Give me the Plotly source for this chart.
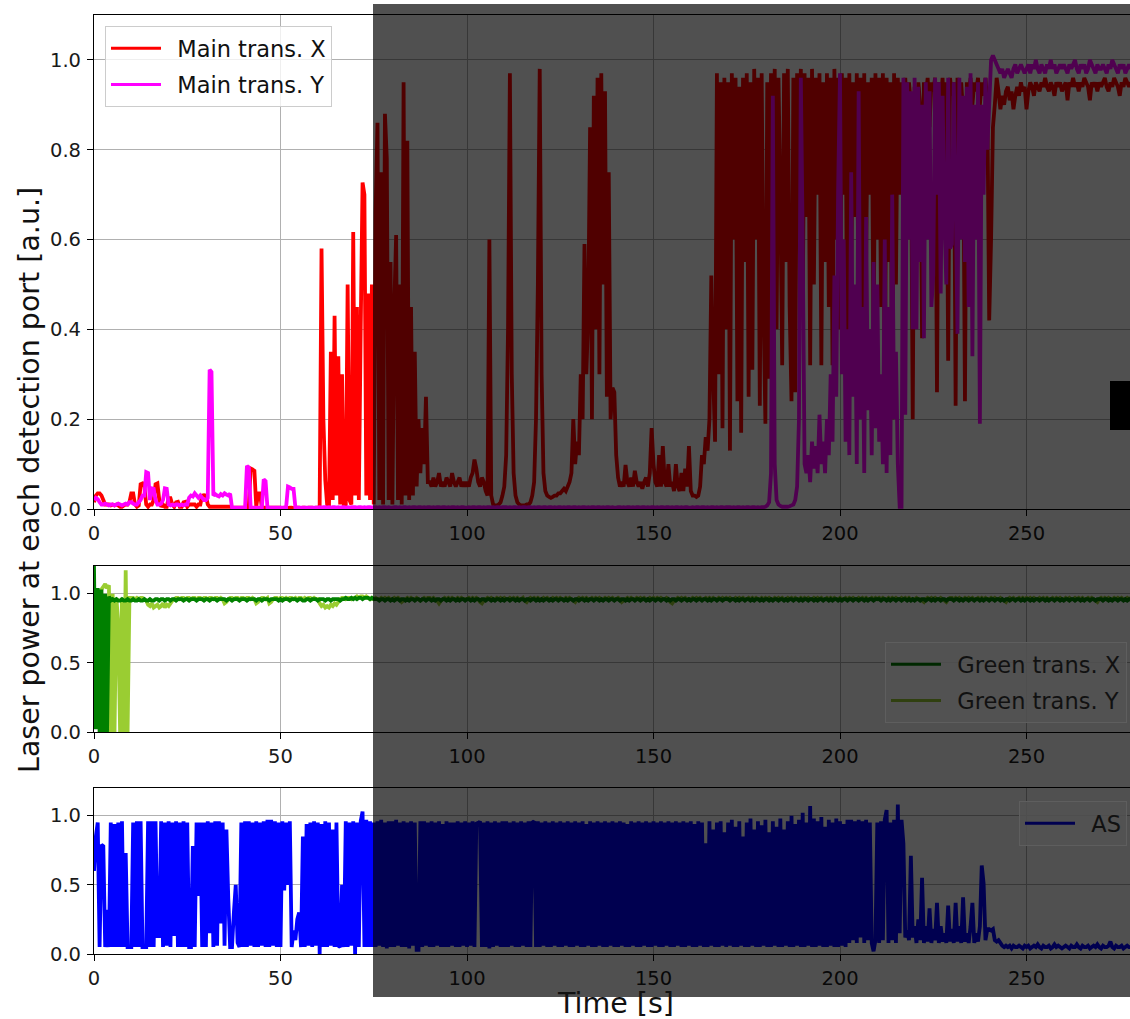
import plotly.graph_objects as go

# ---------------- data ----------------
# all series sampled every TIME_STEP_S seconds, values in percent of full scale
TIME_STEP_S = 0.5

main_x_pct = [
    1.5,3,3.5,3.5,3,2,1,1,1,0.8,1,0.8,1,0.8,0.5,0.5,0.8,1,1,1.5,
    3.5,3.5,1,0.5,0.8,5.5,5.7,5,1,0.5,1,1,2,5.5,5.7,2,0.5,1,0.5,0.5,
    2.4,2.4,1,0.5,1.5,1.6,0.5,0.5,1.5,1.6,0.5,1,1,1,1,0.5,1,1,3,3.1,
    3,1,0.5,0.5,0.5,0.5,0.5,0.5,0.5,0.5,0.5,0.5,0.5,0.5,0.3,0.3,0.3,0.3,0.3,0.3,
    0.3,0.3,0.3,0.5,9,8.8,8.5,0.5,3.5,3.5,0.3,0.3,0.3,0.3,0.3,0.3,0.3,0.3,0.3,0.3,
    0.3,0.2,0.3,0.3,0.2,0.3,0.3,0.2,0.3,0.3,0.3,0.2,0.3,0.3,0.2,0.3,0.3,0.3,0.2,0.3,
    0.3,0.5,58,20,6.5,1,0.5,35,2,43,3,34,1,30,0.5,1,50,2,1,61.7,
    3,45,2,40,72.7,70,3,48,2,50,1,66,86,2,75,1,88,78,2,55,
    1,45,61,2,50,1,95,3,82,2,45,3,35,5,20,8,18,10,25,6,
    6,5,7,5,6,8,5,6,5,7,6,5,8,6,5,6,7,5,6,5,
    6,5,7,8,11,9,6,5,7,6,4,3,60,3,1,0.8,0.8,1,1.5,3,
    5,12,40,97,30,8,3,1.5,1,0.8,0.8,0.8,1,1,1.5,3,6,20,50,98,
    30,8,4,3,2.7,2.5,2.7,3,3,3.5,3.5,4,4.5,4,5,6,8,20,10,15,
    12,30,20,59,30,44,85,20,92,40,96,30,97,50,93,25,75,20,27,26,
    12,7,5,6,5,9.8,6,5,7,5,8.5,6,5,6,4.5,6,7,5,8,18,
    10,6,5,12,5,14,6,5,10,5,6,4,10,5,4,8,4,9,5,14,
    4,3,3,2.7,3,5,12,10,16,13,20,52,30,15,97,30,95,18,96,40,
    95,13,97,60,96,24,94,17,96,55,97,25,95,31,98,60,96,23,97,45,
    19,95,29,97,50,98,40,96,70,32,97,55,98,45,24,96,26,97,60,98,
    45,97,65,96,32,98,50,96,70,97,32,95,55,97,45,96,32,98,60,96,
    40,97,70,96,20,97,50,95,65,97,40,96,27,97,55,95,70,96,35,97,
    60,96,45,97,20,96,55,95,20,97,50,96,70,95,60,96,85,95,90,20,
    94,80,95,90,38,95,92,96,85,95,93,96,26,95,90,96,85,95,33,96,
    92,95,23,96,90,95,88,24,95,92,96,90,95,93,96,90,95,92,96,90,
    42,60,85,90,96,93,89,92,90,93,94,91,93,89,92,94,92,95,93,94,
    89,93,95,94,92,95,94,93,95,94,96,94,93,95,94,92,95,94,95,93,
    94,95,91,95,94,96,94,95,93,95,94,96,95,94,91,95,94,95,93,95,
    94,95,96,94,93,95,94,96,95,94,92,95,94,96,95,94,95,93,95,94,
]

main_y_pct = [
    2,2.5,2.2,1.5,1,1,1.2,1,0.8,1,1,0.8,1,1.2,1,0.8,1,1.2,1,1.5,
    1.5,1.2,1,1,1.5,2,3,3,8.2,8,2,4.6,4.5,2,1,1,1.2,2,4.6,4.5,
    1,0.8,1,0.8,1,1,0.8,1,0.8,1,1,2.5,3,2.8,3.5,3,2.5,3,2.5,2,
    2,2.5,31,30.5,3,3.3,3,2.8,3.3,3,3.5,3.2,3,3.4,0.3,0.3,0.3,0.3,0.3,0.3,
    0.3,0.3,9.6,9.2,0.3,0.3,0.3,0.3,0.3,0.3,0.3,6.6,6.2,0.3,0.3,0.3,0.3,0.3,0.3,0.3,
    0.3,0.3,0.3,0.3,5,4.8,4.5,4.5,0.3,0.3,0.3,0.3,0.3,0.3,0.3,0.3,0.3,0.3,0.3,0.3,
    0.3,0.4,0.3,0.4,0.4,0.3,0.4,0.3,0.4,0.4,0.3,0.4,0.3,0.4,0.4,0.3,0.4,0.3,0.4,0.4,
    0.4,0.3,0.4,0.4,0.3,0.4,0.3,0.4,0.4,0.3,0.4,0.4,0.3,0.4,0.3,0.4,0.4,0.3,0.4,0.3,
    0.3,0.4,0.4,0.3,0.4,0.3,0.4,0.4,0.3,0.4,0.3,0.4,0.4,0.3,0.4,0.4,0.3,0.4,0.3,0.4,
    0.4,0.3,0.4,0.3,0.4,0.4,0.3,0.4,0.4,0.3,0.4,0.3,0.4,0.4,0.3,0.4,0.3,0.4,0.4,0.3,
    0.3,0.4,0.3,0.4,0.4,0.3,0.4,0.4,0.3,0.4,0.3,0.4,0.4,0.3,0.4,0.3,0.4,0.4,0.3,0.4,
    0.4,0.4,0.3,0.4,0.3,0.4,0.4,0.3,0.4,0.3,0.4,0.4,0.3,0.4,0.4,0.3,0.4,0.3,0.4,0.4,
    0.3,0.4,0.4,0.3,0.4,0.4,0.3,0.4,0.3,0.4,0.4,0.3,0.4,0.3,0.4,0.4,0.3,0.4,0.4,0.3,
    0.4,0.3,0.4,0.4,0.3,0.4,0.3,0.4,0.4,0.3,0.4,0.4,0.3,0.4,0.3,0.4,0.4,0.3,0.4,0.3,
    0.3,0.4,0.4,0.3,0.4,0.3,0.4,0.4,0.3,0.4,0.3,0.4,0.4,0.3,0.4,0.4,0.3,0.4,0.3,0.4,
    0.4,0.3,0.4,0.3,0.4,0.4,0.3,0.4,0.4,0.3,0.4,0.3,0.4,0.4,0.3,0.4,0.3,0.4,0.4,0.3,
    0.3,0.4,0.3,0.4,0.4,0.3,0.4,0.4,0.3,0.4,0.3,0.4,0.4,0.3,0.4,0.3,0.4,0.4,0.3,0.4,
    0.4,0.4,0.3,0.4,0.3,0.4,0.4,0.3,0.4,0.3,0.4,0.4,0.3,0.4,0.4,0.3,0.4,0.3,0.4,0.4,
    0.5,0.8,1.5,8,92,10,2,1,0.7,0.5,0.5,0.5,0.5,0.6,0.8,1,2,5,20,96,
    60,10,8,12,6,15,9,14,8,21,10,15,8,20,12,30,15,52,25,71,
    97,30,60,15,40,12,75,25,50,10,93,20,45,8,65,22,40,12,55,18,
    50,15,30,10,60,8,45,12,70,20,35,10,0.5,0.5,96,21,95,60,93,40,
    96,40,94,55,90,38,95,60,93,45,52,96,70,95,48,92,65,50,96,58,
    59,95,70,39,96,60,92,55,94,45,97,34,90,60,95,19,90,70,96,80,
    90,100,101,100,99,98,97,98,96,97,98,97,96,98,99,97,98,99,98,97,
    98,99,97,99,98,100,98,97,99,98,97,99,98,100,98,99,97,98,99,98,
    99,98,97,99,98,99,100,98,97,99,98,99,97,98,100,99,98,97,99,98,
    98,99,98,97,99,98,100,99,98,97,99,98,99,97,98,99,98,100,98,99,
]

green_x_pct = [
    120,2,104,0,103,0,100,0,98,95,96,95,96,95,95,96,95,95,96,95,
    95,96,95,95,96,95,95,96,95,95,96,95,95,96,96,95,96,96,95,96,
    96,95,96,96,95,96,96,96,95,96,96,95,96,96,96,95,96,96,96,95,
    96,96,95,96,96,96,95,96,96,96,96,95,96,96,95,96,96,96,95,96,
    96,96,95,96,96,96,96,95,96,96,95,96,96,96,95,96,96,96,96,95,
    96,95,96,96,96,95,96,96,96,95,96,96,95,95,96,96,95,96,96,96,
    95,96,96,96,95,96,96,95,96,96,96,96,95,96,96,97,96,96,97,96,
    97,96,97,97,96,97,97,97,96,97,96,96,96,95,96,96,95,96,96,95,
    96,95,96,96,95,96,96,95,96,95,96,96,95,96,96,95,96,96,95,96,
    96,95,96,95,96,96,95,96,96,95,96,95,96,96,95,96,95,96,96,95,
    96,96,95,96,95,96,96,95,96,96,95,96,96,95,96,95,96,96,95,96,
    95,96,96,95,96,96,95,96,95,96,96,95,96,96,95,96,96,95,96,95,
    96,95,96,96,95,96,95,96,96,95,96,96,95,96,95,96,96,95,96,96,
    95,96,96,95,96,95,96,96,95,96,96,95,96,95,96,96,95,96,96,95,
    96,96,95,96,96,95,96,95,96,96,95,96,96,95,96,96,95,96,95,96,
    96,95,96,96,95,96,96,95,96,95,96,96,95,96,96,95,96,96,95,96,
    95,96,96,95,96,96,95,96,96,95,96,95,96,96,95,96,96,95,96,96,
    96,95,96,96,95,96,95,96,96,95,96,96,95,96,95,96,96,95,96,95,
    96,96,95,96,95,96,96,95,96,96,95,96,95,96,96,95,96,96,95,96,
    95,96,96,95,96,96,95,96,95,96,96,95,96,96,95,96,95,96,96,95,
    96,95,96,96,95,96,96,95,96,96,95,96,96,95,96,95,96,96,95,96,
    96,96,95,96,96,95,96,95,96,96,95,96,96,95,96,96,95,96,95,96,
    95,96,96,95,96,96,95,96,96,95,96,95,96,96,95,96,96,95,96,96,
    96,95,96,96,95,96,95,96,96,95,96,96,95,96,96,95,96,95,96,96,
    95,96,96,95,96,96,95,96,95,96,96,95,96,96,95,96,96,95,96,95,
    96,96,95,96,95,96,96,95,96,96,95,96,95,96,96,95,96,96,95,96,
    95,96,96,95,96,96,95,96,96,95,96,95,96,96,95,96,96,95,96,96,
    96,95,96,96,95,96,95,96,96,95,96,96,95,96,95,96,96,95,96,95,
]

green_y_pct = [
    100,102,101,100,103,105,107,104,106,0,100,0,97,78,0,97,0,117,0,97,
    97,97,96,97,96,97,97,96,95,92,91,93,90,91,92,90,91,93,90,92,
    91,93,95,96,97,97,96,97,97,96,97,97,96,97,97,96,97,97,96,97,
    97,96,97,97,96,97,97,96,97,96,93,94,96,97,97,96,97,97,96,97,
    97,96,97,97,96,97,96,93,94,96,97,97,96,97,93,94,96,97,97,96,
    97,97,96,97,96,97,97,96,97,96,97,97,96,97,96,97,97,96,97,96,
    96,93,91,92,90,91,90,92,91,93,92,94,96,97,97,96,97,97,96,97,
    97,98,97,98,98,97,98,97,96,97,96,97,96,96,97,96,97,96,97,96,
    96,97,96,97,96,94,95,96,97,96,97,96,96,97,96,95,96,97,96,97,
    97,96,97,96,95,93,95,96,97,96,97,96,97,96,96,97,96,97,96,96,
    96,97,96,97,96,97,96,94,93,95,96,97,96,97,96,96,97,96,97,96,
    97,96,96,97,96,97,96,97,96,96,97,95,94,96,97,96,97,96,97,96,
    96,97,96,97,96,96,97,96,97,96,97,96,96,97,96,97,96,95,94,96,
    97,96,97,96,97,96,96,97,96,97,96,97,96,96,97,96,97,96,97,96,
    96,97,96,94,95,96,97,96,97,96,96,97,96,97,96,97,96,96,97,96,
    97,96,97,96,97,96,96,97,96,94,93,95,96,97,96,97,96,97,96,96,
    96,97,96,97,96,97,96,96,97,96,97,96,97,96,96,97,96,97,96,97,
    96,97,96,96,97,96,97,96,97,96,96,97,96,97,96,97,96,96,97,96,
    97,96,97,96,96,97,96,97,96,97,96,96,97,96,97,96,97,96,96,97,
    96,97,96,97,96,96,97,96,97,96,97,96,96,97,96,97,96,97,96,96,
    97,96,96,97,96,97,96,97,96,96,97,96,97,96,97,96,96,97,96,97,
    96,97,96,97,96,96,97,96,97,96,97,96,96,97,96,97,96,97,96,96,
    96,97,96,96,95,94,96,97,96,97,96,97,96,96,97,96,95,94,96,97,
    97,96,97,96,97,96,96,97,96,97,96,97,96,96,97,96,97,96,97,96,
    96,97,96,97,96,96,97,96,95,94,96,97,96,97,96,96,97,96,97,96,
    97,96,97,96,97,96,96,97,96,97,96,97,96,96,97,96,97,96,97,96,
    96,97,96,97,96,96,97,96,97,96,97,96,96,97,96,97,96,95,94,96,
    97,96,97,96,97,96,96,97,96,97,96,97,96,96,97,96,97,96,97,96,
]

as_pct = [
    60,85,95,5,79,78,5,32,5,95,5,94,5,95,5,96,5,73,5,5,
    5,95,5,96,5,96,5,5,5,96,5,96,5,96,13,13,96,5,95,6,
    96,5,95,13,96,5,95,5,96,5,95,5,5,78,5,95,42,95,5,95,
    5,96,15,95,5,96,6,96,22,95,6,90,40,5,5,30,50,8,5,95,
    5,96,5,96,6,95,5,96,5,95,6,96,5,97,5,97,6,96,5,95,
    5,96,46,95,50,96,5,17,10,25,30,5,85,5,94,6,95,5,96,6,
    95,0,94,5,96,5,95,6,90,5,95,6,5,50,5,96,5,95,6,96,
    0,95,5,96,103,5,97,5,96,5,95,5,96,6,97,5,95,4,96,5,
    96,5,97,6,95,5,96,5,95,4,96,6,95,3,3,96,5,96,6,95,
    5,96,5,95,6,96,5,94,5,96,5,95,6,95,5,96,5,95,6,96,
    5,95,6,96,5,95,94,96,5,95,5,96,4,95,5,96,6,95,5,96,
    5,96,5,95,6,96,5,95,5,96,6,95,5,96,5,95,96,5,96,5,
    95,6,96,5,95,5,96,6,95,5,96,5,95,6,96,5,95,5,96,6,
    95,5,96,5,94,6,96,5,95,5,96,6,95,5,96,5,95,6,96,5,
    95,5,96,6,95,5,94,5,96,6,95,5,96,5,95,6,96,5,95,5,
    96,6,95,5,96,5,95,6,96,5,95,5,96,6,95,5,96,5,95,6,
    96,5,94,5,96,6,95,5,80,5,96,6,90,5,95,5,96,6,88,5,
    95,6,97,5,92,5,96,6,85,5,95,5,98,6,90,5,96,5,93,6,
    97,5,88,5,96,6,92,5,98,5,90,6,96,5,100,5,94,6,97,5,
    102,5,95,6,107,5,98,5,96,6,99,5,92,5,97,6,95,5,98,5,
    96,6,94,5,97,8,97,10,96,8,97,12,96,8,97,10,95,8,2,10,
    95,8,96,10,97,104,8,95,10,97,8,108,15,97,80,12,17,10,71,12,
    20,8,25,10,55,8,20,9,33,8,18,10,37,8,20,9,15,8,35,9,
    18,8,37,9,20,8,41,9,15,8,20,37,8,15,9,20,64,51,10,18,
    18,17,18,10,9,10,8,6,5,6,5,6,4,6,5,5,6,5,4,6,
    5,6,4,5,6,5,7,5,4,6,5,5,6,4,5,7,5,6,5,4,
    5,6,5,4,6,5,5,7,5,4,6,5,5,6,4,5,6,5,7,5,
    4,6,5,5,6,9,5,4,6,5,5,6,4,5,6,5,5,4,6,5,
]

x_tick_vals = [0, 50, 100, 150, 200, 250]
top_y_ticks = [0.0, 0.2, 0.4, 0.6, 0.8, 1.0]
low_y_ticks = [0.0, 0.5, 1.0]

names_top = ["Main trans. X", "Main trans. Y"]
names_mid = ["Green trans. X", "Green trans. Y"]
names_bot = ["AS"]

# ---------------- helpers ----------------
W, H = 1130, 1019
LEFT = 94
FONT = "DejaVu Sans"
GAP = "\u2002"  # spacing between legend line sample and label


def px_x(px):
    return (px - LEFT) / (W - LEFT)


def px_y(py):
    return (H - py) / H


def series(pct):
    return [i * TIME_STEP_S for i in range(len(pct))], [v / 100.0 for v in pct]


LW = 3.8
fig = go.Figure()


def add_line(pct, color, xa, ya):
    t, v = series(pct)
    fig.add_trace(go.Scatter(x=t, y=v, mode="lines", xaxis=xa, yaxis=ya,
                             line=dict(color=color, width=LW, simplify=False),
                             showlegend=False, hoverinfo="skip"))


add_line(main_x_pct, "#ff0000", "x", "y")
add_line(main_y_pct, "#ff00ff", "x", "y")
add_line(green_y_pct, "#9acd32", "x2", "y2")
add_line(green_x_pct, "#008000", "x2", "y2")
add_line(as_pct, "#0000ff", "x3", "y3")


def add_legend_entry(name, color, xa, ya, legend, group):
    fig.add_trace(go.Scatter(x=[None], y=[None], mode="lines", xaxis=xa, yaxis=ya,
                             name=GAP + name, legend=legend, legendgroup=group,
                             line=dict(color=color, width=3)))


# top legend is outside the dimmed area: normal colours
add_legend_entry(names_top[0], "#ff0000", "x", "y", "legend", "a")
add_legend_entry(names_top[1], "#ff00ff", "x", "y", "legend", "b")
# these legends sit under the dark overlay: colours as seen
add_legend_entry(names_mid[0], "#002800", "x2", "y2", "legend2", "c")
add_legend_entry(names_mid[1], "#304010", "x2", "y2", "legend2", "d")
add_legend_entry(names_bot[0], "#000050", "x3", "y3", "legend3", "e")

xaxis_style = dict(range=[0, (W - LEFT) / 3.73], tickvals=x_tick_vals,
                   showgrid=True, gridcolor="#b0b0b0", gridwidth=1,
                   showline=True, linecolor="black", linewidth=1.2, mirror=True,
                   ticks="outside", ticklen=6, tickwidth=1.1, tickcolor="black",
                   ticklabelstandoff=0,
                   tickfont=dict(family=FONT, size=19.5, color="#1a1a1a"),
                   zeroline=False, domain=[0, 1], automargin=False)
yaxis_style = dict(showgrid=True, gridcolor="#b0b0b0", gridwidth=1,
                   showline=True, linecolor="black", linewidth=1.2, mirror=False,
                   ticks="outside", ticklen=6, tickwidth=1.1, tickcolor="black",
                   ticklabelstandoff=2,
                   tickfont=dict(family=FONT, size=19.5, color="#1a1a1a"),
                   tickformat=".1f", zeroline=False, automargin=False)

legend_common = dict(borderwidth=1, tracegroupgap=4, itemwidth=50,
                     font=dict(family=FONT, size=22.5, color="#111111"))

fig.update_layout(
    width=W, height=H,
    margin=dict(l=LEFT, r=0, t=0, b=0, pad=0, autoexpand=False),
    paper_bgcolor="white", plot_bgcolor="white",
    xaxis=dict(anchor="y", **xaxis_style),
    yaxis=dict(anchor="x", domain=[px_y(509), px_y(15)], range=[0, 1.1],
               tickvals=top_y_ticks, **yaxis_style),
    xaxis2=dict(anchor="y2", **xaxis_style),
    yaxis2=dict(anchor="x2", domain=[px_y(732), px_y(566)], range=[0, 1.2],
                tickvals=low_y_ticks, **yaxis_style),
    xaxis3=dict(anchor="y3", **xaxis_style),
    yaxis3=dict(anchor="x3", domain=[px_y(954), px_y(788)], range=[0, 1.2],
                tickvals=low_y_ticks, **yaxis_style),
    legend=dict(x=px_x(105), y=px_y(26), xanchor="left", yanchor="top",
                bgcolor="rgba(255,255,255,0.8)", bordercolor="#cccccc", **legend_common),
    legend2=dict(x=px_x(1127), y=px_y(642), xanchor="right", yanchor="top",
                 bgcolor="rgba(82,82,82,0.85)", bordercolor="#5e5e5e", **legend_common),
    legend3=dict(x=px_x(1127), y=px_y(801), xanchor="right", yanchor="top",
                 bgcolor="rgba(82,82,82,0.85)", bordercolor="#5e5e5e", **legend_common),
    annotations=[
        dict(text="Laser power at each detection port [a.u.]", xref="paper", yref="paper",
             x=px_x(29), y=px_y(480), textangle=-90, showarrow=False,
             xanchor="center", yanchor="middle",
             font=dict(family=FONT, size=28.5, color="#111111")),
        dict(text="Time [s]", xref="paper", yref="paper",
             x=px_x(615), y=0.0, showarrow=False,
             xanchor="center", yanchor="bottom", borderpad=0,
             height=30, valign="middle",
             font=dict(family=FONT, size=28.5, color="#111111")),
    ],
    shapes=[
        # dimming overlay over the right part of the picture
        dict(type="rect", xref="paper", yref="paper", layer="above",
             x0=px_x(373), x1=1.0, y0=px_y(997), y1=px_y(4),
             fillcolor="rgba(0,0,0,0.686)", line=dict(width=0)),
        # small black block at the right edge
        dict(type="rect", xref="paper", yref="paper", layer="above",
             x0=px_x(1110), x1=1.0, y0=px_y(430), y1=px_y(381),
             fillcolor="black", line=dict(width=0)),
    ],
)

fig.write_html("out.html", config={"displayModeBar": False},
               post_script="document.body.style.margin='0';"
                           "document.documentElement.style.overflow='hidden';")
